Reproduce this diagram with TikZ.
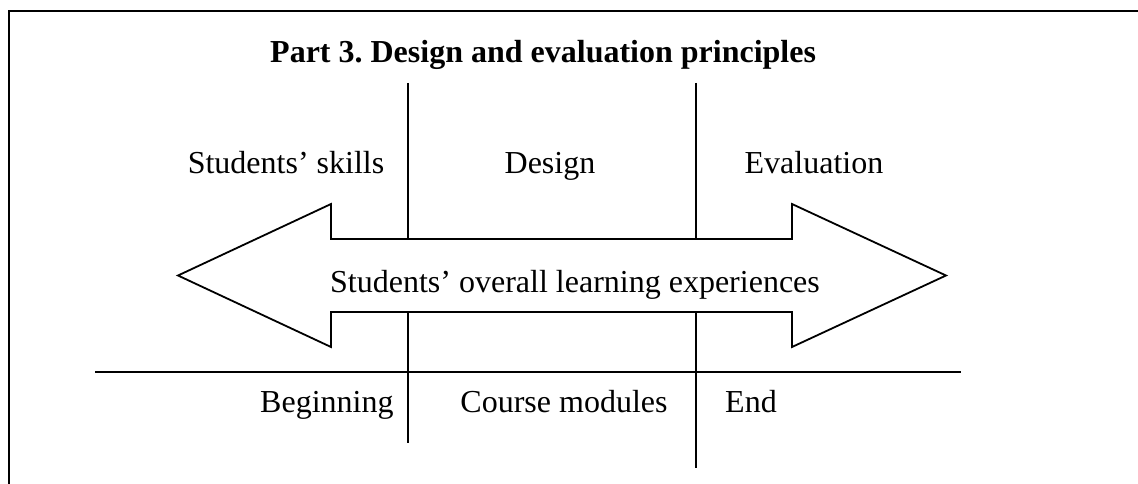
\documentclass[tikz,border=0pt]{standalone}
\usepackage{fontspec}
\setmainfont{Liberation Serif}
\frenchspacing
\begin{document}
\begin{tikzpicture}[x=1pt,y=-1pt,
  ln/.style={line width=1.8pt},
  frame/.style={line width=2.2pt},
  lbl/.style={inner sep=0pt,font=\fontsize{32}{38}\selectfont},
  ttl/.style={inner sep=0pt,font=\fontsize{32}{38}\selectfont\bfseries}]
\useasboundingbox (0,0) rectangle (1138,484);
% frame
\coordinate (fbl) at (9,484);
\coordinate (ftl) at (9,11);
\coordinate (ftr) at (1138,11);
\draw[frame] (fbl) -- (ftl) -- (ftr);
% title
\node[ttl,anchor=base west] (title) at (270,63) {Part 3. Design and evaluation principles};
% double arrow
\draw[ln,line join=miter] (178,275.5) -- (331,204) -- (331,239) -- (792,239) -- (792,204)
  -- (946,275.5) -- (792,347) -- (792,312) -- (331,312) -- (331,347) -- cycle;
\node[lbl,anchor=base] (exp) at (575,292) {Students’ overall learning experiences};
% vertical dividers
\coordinate (v1t) at (408,83); \coordinate (v1a) at (408,239);
\coordinate (v1b) at (408,312); \coordinate (v1e) at (408,443);
\coordinate (v2t) at (696,83); \coordinate (v2a) at (696,239);
\coordinate (v2b) at (696,312); \coordinate (v2e) at (696,468);
\draw[ln] (v1t) -- (v1a);
\draw[ln] (v1b) -- (v1e);
\draw[ln] (v2t) -- (v2a);
\draw[ln] (v2b) -- (v2e);
% horizontal line
\coordinate (hl) at (95,372); \coordinate (hr) at (961,372);
\draw[ln] (hl) -- (hr);
% top labels
\node[lbl,anchor=base] (skills) at (286,174) {Students’ skills};
\node[lbl,anchor=base] (design) at (550,174) {Design};
\node[lbl,anchor=base] (eval) at (814,174) {Evaluation};
% bottom labels
\node[lbl,anchor=base west] (begin) at (260,412) {Beginning};
\node[lbl,anchor=base] (modules) at (564,412) {Course modules};
\node[lbl,anchor=base west] (end) at (725,412) {End};
\end{tikzpicture}
\end{document}
